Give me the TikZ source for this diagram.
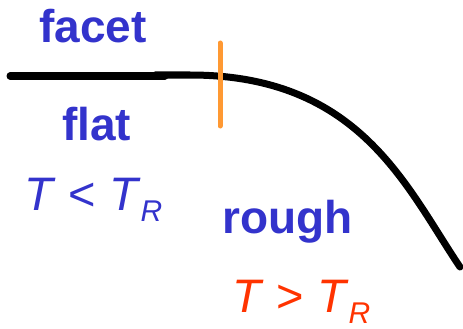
\documentclass[tikz,border=0pt]{standalone}
\usepackage{fontspec}
\setmainfont{Liberation Sans}
\definecolor{lblblue}{RGB}{51,51,204}
\definecolor{lblred}{RGB}{255,51,0}
\definecolor{tickorange}{RGB}{255,153,51}
\begin{document}
\begin{tikzpicture}[x=1pt,y=-1pt,
  lbl/.style={inner sep=0pt,anchor=base west,font=\fontsize{46}{50}\selectfont\bfseries,text=lblblue},
  eq/.style={inner sep=0pt,anchor=base west,font=\fontsize{47}{50}\selectfont},
  profile/.style={line width=7pt,line cap=round,line join=round,black}]
\useasboundingbox (0,0) rectangle (463,329);
\draw[profile] (10,76) -- (165,76);
\draw[profile] (155,75) -- (190,75) .. controls (360,75) and (406,187) .. (460,267);
\draw[line width=5pt,line cap=round,tickorange] (220,43) coordinate (mt) -- (220,126) coordinate (mb);
\node[lbl] (facet) at (39,43) {facet};
\node[lbl] (flat) at (62,140) {flat};
\node[eq,text=lblblue] (tlow) at (24,210) {\textit{T} \textless{} \textit{T}\raisebox{-0.24em}{\fontsize{30}{30}\selectfont\textit{R}}};
\node[lbl] (rough) at (222,233) {rough};
\node[eq,text=lblred] (thigh) at (232,312) {\textit{T} \textgreater{} \textit{T}\raisebox{-0.24em}{\fontsize{30}{30}\selectfont\textit{R}}};
\end{tikzpicture}
\end{document}
